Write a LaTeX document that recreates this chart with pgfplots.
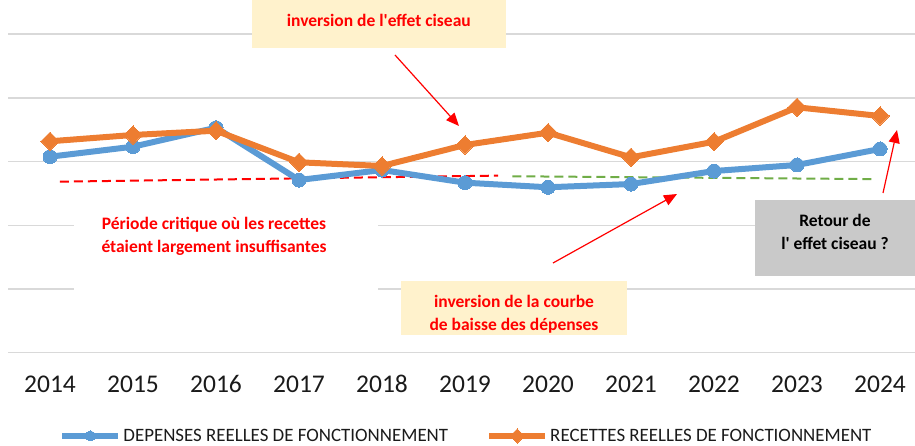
\documentclass[border=0pt]{standalone}
\usepackage{fontspec}
\setmainfont{Carlito}
\usepackage{pgfplots}
\pgfplotsset{compat=1.18}
\usetikzlibrary{arrows.meta}
\definecolor{cblue}{HTML}{5B9BD5}
\definecolor{corange}{HTML}{ED7D31}
\definecolor{cgreen}{HTML}{70AD47}
\definecolor{cgrid}{HTML}{D9D9D9}
\definecolor{ccream}{HTML}{FFF2CC}
\definecolor{cgray}{HTML}{C9C9C9}
\definecolor{ctext}{HTML}{1A1A1A}
\begin{document}
\begin{tikzpicture}[x=1pt,y=1pt]
\useasboundingbox (0,0) rectangle (915,446);
\begin{axis}[
  at={(8.5pt,93.3pt)}, anchor=south west,
  scale only axis, width=906.4pt, height=337.6pt,
  xmin=-0.5, xmax=10.42, ymin=0, ymax=5.3,
  xtick={0,...,10},
  xticklabels={2014,2015,2016,2017,2018,2019,2020,2021,2022,2023,2024},
  ytick={0,1,2,3,4,5}, yticklabels={},
  ymajorgrids, grid style={cgrid, line width=1.5pt},
  axis line style={draw=none},
  tick style={draw=none},
  /pgf/number format/assume math mode=true,
  xticklabel style={font=\fontsize{25.5}{28}\selectfont, text=ctext, text height=17pt, text depth=0pt, yshift=-19pt},
  clip=false,
  legend columns=2,
  legend style={at={(axis description cs:0.5053,-0.2467)}, anchor=center, draw=none, fill=none,
    font=\fontsize{18.9}{22}\selectfont, text=ctext,
    /tikz/every even column/.append style={column sep=36pt},
    nodes={inner sep=2pt}},
  legend image code/.code={\draw[#1, mark repeat=2, mark phase=2, mark size=5pt] plot coordinates {(0pt,0pt) (28pt,0pt) (56pt,0pt)};},
]
\addplot[red, line width=2pt, dash pattern=on 9pt off 5pt, forget plot] coordinates {(0.12,2.685) (5.4,2.78)};
\addplot[cgreen, line width=2pt, dash pattern=on 9pt off 5pt, forget plot] coordinates {(5.57,2.77) (9.94,2.725)};
\addplot[cblue, line width=6pt, mark=*, mark size=7pt, mark options={fill=cblue, draw=cblue, line width=0pt}] coordinates {
(0,3.077) (1,3.234) (2,3.532) (3,2.711) (4,2.868) (5,2.669) (6,2.597) (7,2.648) (8,2.852) (9,2.947) (10,3.198)};
\addlegendentry{DEPENSES REELLES DE FONCTIONNEMENT}
\addplot[corange, line width=6pt, mark=square*, mark size=6.5pt, mark options={fill=corange, draw=corange, line width=0pt, rotate=45}] coordinates {
(0,3.319) (1,3.418) (2,3.485) (3,2.989) (4,2.931) (5,3.261) (6,3.454) (7,3.067) (8,3.312) (9,3.852) (10,3.716)};
\addlegendentry{RECETTES REELLES DE FONCTIONNEMENT}
\end{axis}
% annotation boxes
\fill[ccream] (252,398.3) rectangle (505.7,446);
\node[text=red, font=\fontsize{17.5}{21}\selectfont\bfseries] at (378.8,426) {inversion de l\textquotesingle effet ciseau};
\fill[white] (74,146) rectangle (378,248);
\node[text=red, font=\fontsize{17.5}{23}\selectfont\bfseries, align=center] at (214,209.5) {Période critique où les recettes\\étaient largement insuffisantes};
\fill[ccream] (401,111) rectangle (627,165);
\node[text=red, font=\fontsize{17.5}{23}\selectfont\bfseries, align=center] at (514,131.5) {inversion de la courbe\\de baisse des dépenses};
\fill[cgray] (755,170) rectangle (915,246);
\node[text=black, font=\fontsize{17.5}{23}\selectfont\bfseries, align=center] at (835,214) {Retour de\\l\textquotesingle{} effet ciseau ?};
% arrows
\draw[red, line width=1.2pt, -{Triangle[length=13pt,width=11pt]}] (395,391) -- (459,320);
\draw[red, line width=1.2pt, -{Triangle[length=13pt,width=11pt]}] (553,183) -- (677,252);
\draw[red, line width=1.2pt, -{Triangle[length=13pt,width=11pt]}] (883,253) -- (897,316);
\end{tikzpicture}
\end{document}
